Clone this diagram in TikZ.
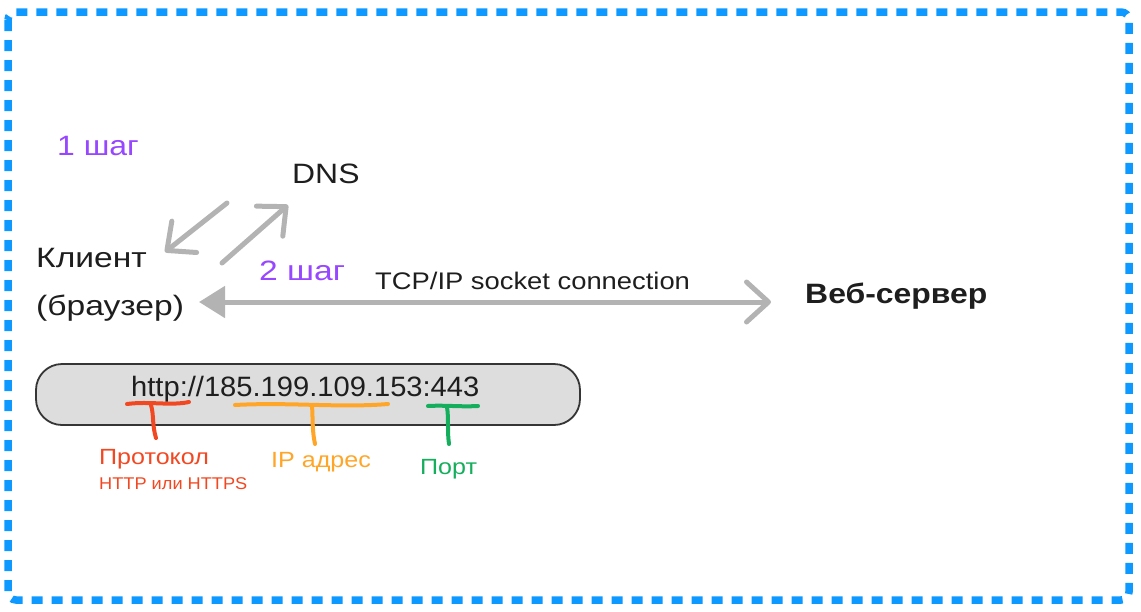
\documentclass[tikz,border=0pt]{standalone}
\usepackage{fontspec}
\setmainfont[FakeStretch=1.14]{Liberation Sans}
\newfontfamily\urlfont[FakeStretch=1.04]{Liberation Sans}
\newfontfamily\smallfont[FakeStretch=1.07]{Liberation Sans}
\newfontfamily\widefont[FakeStretch=1.2]{Liberation Sans}
\usetikzlibrary{arrows.meta}
\definecolor{figblue}{HTML}{0D99FF}
\definecolor{figgray}{HTML}{B3B3B3}
\definecolor{figpurple}{HTML}{9747FF}
\definecolor{figred}{HTML}{F24822}
\definecolor{figorange}{HTML}{FFA629}
\definecolor{figgreen}{HTML}{14AE5C}
\definecolor{figtext}{HTML}{1E1E1E}
\definecolor{boxfill}{HTML}{DDDDDD}
\tikzset{
  lbl/.style={anchor=base west, inner sep=0pt, text=figtext, font=\fontsize{28}{32}\selectfont},
  conn/.style={draw=figgray, line width=5pt, line cap=round, line join=round},
  chev/.style={-{Straight Barb[length=22pt, width=40pt, line width=5pt, round]}},
  brace/.style={line width=4pt, line cap=round, line join=round},
}
\begin{document}
\begin{tikzpicture}[x=1pt,y=-1pt]
\useasboundingbox (0,0) rectangle (1141,611);
% border
\draw[figblue, line width=7.5pt, dash pattern=on 11pt off 9pt, rounded corners=8pt] (8,12) rectangle (1129,600);

% texts
\node[lbl, text=figpurple] (step1) at (57,155) {1 шаг};
\node[lbl, font=\fontsize{28}{32}\selectfont] (dns) at (292,183) {DNS};
\node[lbl, font=\widefont\fontsize{28}{32}\selectfont] (client1) at (36,267) {Клиент};
\node[lbl, font=\widefont\fontsize{28}{32}\selectfont] (client2) at (36,315) {(браузер)};
\node[lbl, text=figpurple, font=\widefont\fontsize{28}{32}\selectfont] (step2) at (259,280) {2 шаг};
\node[lbl, font=\fontsize{24}{28}\selectfont] (tcp) at (375,289) {TCP/IP socket connection};
\node[lbl, font=\bfseries\fontsize{28}{32}\selectfont] (server) at (805,303) {Веб-сервер};

% coordinates for arrows
\coordinate (a1s) at (227,203);
\coordinate (a1e) at (165,252);
\coordinate (a2s) at (222,263);
\coordinate (a2e) at (288,205);
\coordinate (hl) at (199,302);
\coordinate (hr) at (771,302);

\draw[conn, chev] (a1s) -- (a1e);
\draw[conn, chev] (a2s) -- (a2e);
\draw[conn, {Triangle[length=26pt, width=31pt]}-{Straight Barb[length=22pt, width=40pt, line width=5pt, round]}] (hl) -- (hr);

% URL box
\node[draw=figtext!90, line width=1.8pt, fill=boxfill, rounded corners=26pt, minimum width=544pt, minimum height=61pt, inner sep=0pt] (urlbox) at (308,394.5) {};
\node[lbl, font=\urlfont\fontsize{28}{32}\selectfont] (url) at (131,396) {http://185.199.109.153:443};

% braces
\draw[brace, figred] (127,404) .. controls (150,401) and (170,406) .. (189,402);
\draw[brace, figred] (151,405) .. controls (154,415) and (152,425) .. (156,438);
\draw[brace, figorange] (235,405) .. controls (290,402) and (340,408) .. (388,404);
\draw[brace, figorange] (312,405) .. controls (313,420) and (312,430) .. (315,444);
\draw[brace, figgreen] (428,406) .. controls (445,405) and (460,407) .. (478,406);
\draw[brace, figgreen] (447,407) .. controls (449,420) and (447,430) .. (449,444);

\node[lbl, text=figred, font=\fontsize{22}{26}\selectfont] (proto) at (99,464) {Протокол};
\node[lbl, text=figred, font=\smallfont\fontsize{17}{20}\selectfont] (proto2) at (99,489) {HTTP или HTTPS};
\node[lbl, text=figorange, font=\fontsize{22}{26}\selectfont] (ip) at (271,467) {IP адрес};
\node[lbl, text=figgreen, font=\fontsize{22}{26}\selectfont] (port) at (420,474) {Порт};
\end{tikzpicture}
\end{document}
